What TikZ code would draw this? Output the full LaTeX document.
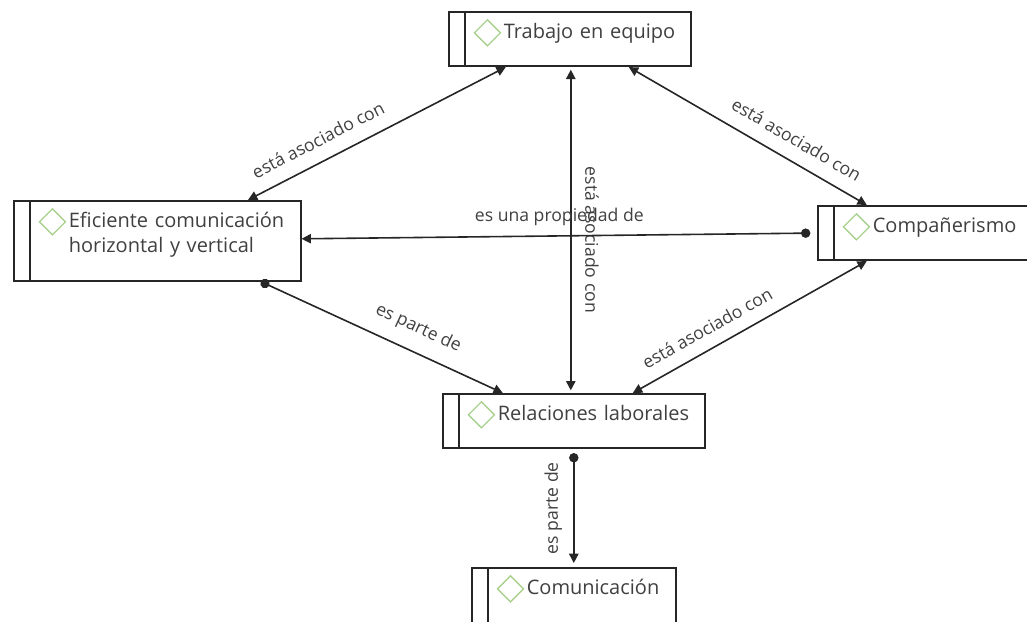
\documentclass[tikz,border=0pt]{standalone}
\usepackage{fontspec}
\setmainfont{Open Sans}
\usetikzlibrary{positioning,arrows.meta}

\definecolor{textoGris}{HTML}{404040}
\definecolor{lineaGris}{HTML}{262626}
\definecolor{verdeRombo}{HTML}{A9D18E}

\tikzset{
  concepto/.style={draw, inner sep=0pt, align=left, text width=#1,
    text height=20.25pt, text depth=20.6pt, text=textoGris,
    font=\fontsize{15}{18.75}\selectfont,
    path picture={
      \draw ([xshift=12pt]path picture bounding box.north west) -- ([xshift=12pt]path picture bounding box.south west);
      \draw[verdeRombo, line width=1pt] ([xshift=29pt,yshift=-15.75pt]path picture bounding box.north west)
        +(0,9.75pt) -- +(9.75pt,0) -- +(0,-9.75pt) -- +(-9.75pt,0) -- cycle;
    }},
  relacion/.style={font=\fontsize{13.2}{15}\selectfont, text=textoGris},
  punto/.tip={Circle[length=7pt]}
}

\begin{document}
\begin{tikzpicture}[x=0.75pt, y=-0.75pt, very thick, color=lineaGris, >={Triangle[length=7pt,width=7pt]}]%
    \useasboundingbox (0,0) rectangle (1027,621);
    \clip (0,0) rectangle (1027,621);
    \node[concepto=181.5pt, anchor=north west] (trabajo) at (448,11) {\hspace*{41.25pt}Trabajo en equipo};
    \node[concepto=215.25pt, anchor=north west, text depth=39.75pt] (eficiente) at (13,200)
        {\hspace*{41.25pt}Eficiente comunicación\\\hspace*{41.25pt}horizontal y vertical};
    \node[concepto=180pt, anchor=north west] (companerismo) at (817,205) {\hspace*{41.25pt}Compañerismo};
    \node[concepto=196.5pt, anchor=north west] (relaciones) at (442,393) {\hspace*{41.25pt}Relaciones laborales};
    \node[concepto=153pt, below=88.5pt of relaciones] (comunicacion) {\hspace*{41.25pt}Comunicación};
    \draw[<->] ([xshift=-48pt]trabajo.south) -- node[relacion, sloped, above=7pt, pos=0.69] {está asociado con} ([xshift=68pt]eficiente.north);
    \draw[<->, shorten <=2pt, shorten >=2pt] ([xshift=0.75pt]trabajo.south) -- node[relacion, pos=0.53, anchor=base, rotate=-90, yshift=11pt] {está asociado con} ([xshift=-2.25pt]relaciones.north);
    \draw[<->] ([xshift=44.25pt]trabajo.south) -- node[relacion, sloped, above=7pt, pos=0.66] {está asociado con} ([xshift=-53.25pt]companerismo.north);
    \draw[punto->, shorten <=5pt] (companerismo.west) -- node[relacion, above=4pt] {es una propiedad de} ([yshift=1.5pt]eficiente.east);
    \draw[punto->] ([xshift=77.6pt]eficiente.south) -- node[relacion, sloped, above=7pt, pos=0.61] {es parte de} ([xshift=-53.25pt]relaciones.north);
    \draw[<->] ([xshift=-53.25pt]companerismo.south) -- node[relacion, sloped, above=6pt, pos=0.64] {está asociado con} ([xshift=44.25pt]relaciones.north);
    \draw[punto->, shorten <=3pt, shorten >=3pt] (relaciones.south) -- node[relacion, anchor=base, rotate=90, yshift=12pt] {es parte de} (comunicacion.north);
\end{tikzpicture}
\end{document}
